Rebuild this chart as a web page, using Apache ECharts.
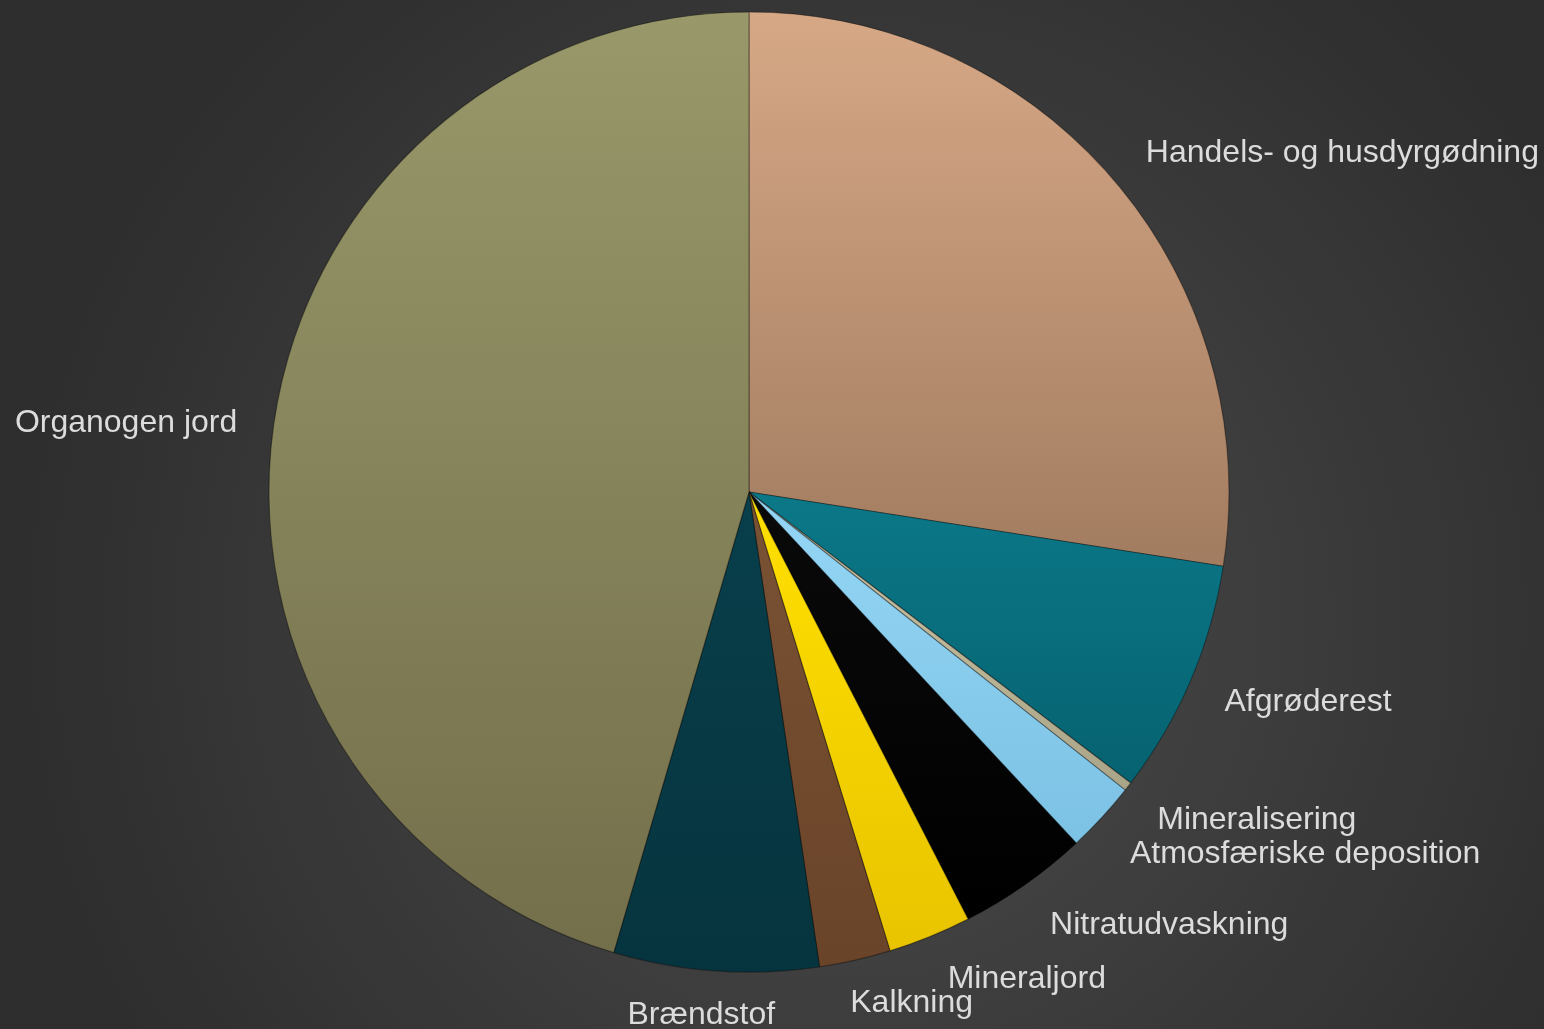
<!DOCTYPE html>
<html>
<head>
<meta charset="utf-8">
<script src="https://cdn.jsdelivr.net/npm/echarts@6/dist/echarts.min.js"></script>
<style>
  html, body { margin: 0; padding: 0; background: #3a3a3a; }
  #chart { width: 1544px; height: 1029px; }
</style>
</head>
<body>
<div id="chart"></div>
<script>
// Sources, clockwise from twelve o'clock (share in %)
const categories = [
  'Handels- og husdyrgødning',
  'Afgrøderest',
  'Mineralisering',
  'Atmosfæriske deposition',
  'Nitratudvaskning',
  'Mineraljord',
  'Kalkning',
  'Brændstof',
  'Organogen jord'
];
const values = [27.5, 7.9, 0.3, 2.4, 4.4, 2.8, 2.4, 6.9, 45.5];

// Slice fills: light (top) and shaded (bottom) tone
const topColors = ['#d6a886', '#0b7888', '#cfc8a8', '#95d6f5', '#0a0a0a', '#ffe000', '#7a5234', '#083f4b', '#98986a'];
const bottomColors = ['#a27c60', '#066270', '#aaa488', '#7cc2e4', '#000000', '#e8c400', '#6a4429', '#06343e', '#736f4b'];

// Small hand-tuned label offsets (px) for the crowded lower part
const labelNudge = {
  'Handels- og husdyrgødning': [0, -3],
  'Afgrøderest': [-4, 7],
  'Mineralisering': [-4, 11],
  'Atmosfæriske deposition': [-3, 12],
  'Nitratudvaskning': [0, 10],
  'Mineraljord': [0, 8],
  'Kalkning': [-17, 7],
  'Brændstof': [-8, 7],
  'Organogen jord': [4, 5]
};

function grad(a, b) {
  return new echarts.graphic.LinearGradient(0, 0, 0, 1, [
    { offset: 0, color: a },
    { offset: 1, color: b }
  ]);
}

const chart = echarts.init(document.getElementById('chart'));
chart.setOption({
  backgroundColor: {
    type: 'radial', x: 0.55, y: 0.6, r: 0.8,
    colorStops: [
      { offset: 0, color: '#4c4c4c' },
      { offset: 1, color: '#2e2e2e' }
    ]
  },
  series: [{
    type: 'pie',
    center: [749, 492],
    radius: 480,
    startAngle: 90,
    clockwise: true,
    avoidLabelOverlap: false,
    animation: false,
    label: {
      show: true,
      position: 'outside',
      color: '#dcdcdc',
      fontSize: 32,
      fontFamily: 'Liberation Sans, Arial, sans-serif',
      distanceToLabelLine: 4
    },
    labelLine: { show: false, length: 37, length2: 0 },
    labelLayout: function (p) {
      const name = categories[p.dataIndex];
      const n = labelNudge[name] || [0, 0];
      const out = { dx: n[0], dy: n[1] };
      if (name === 'Brændstof') out.align = 'center';
      return out;
    },
    itemStyle: {
      borderColor: 'rgba(0,0,0,0.35)',
      borderWidth: 1.2
    },
    data: categories.map((name, i) => ({
      name: name,
      value: values[i],
      itemStyle: { color: grad(topColors[i], bottomColors[i]) }
    }))
  }]
});
</script>
</body>
</html>
